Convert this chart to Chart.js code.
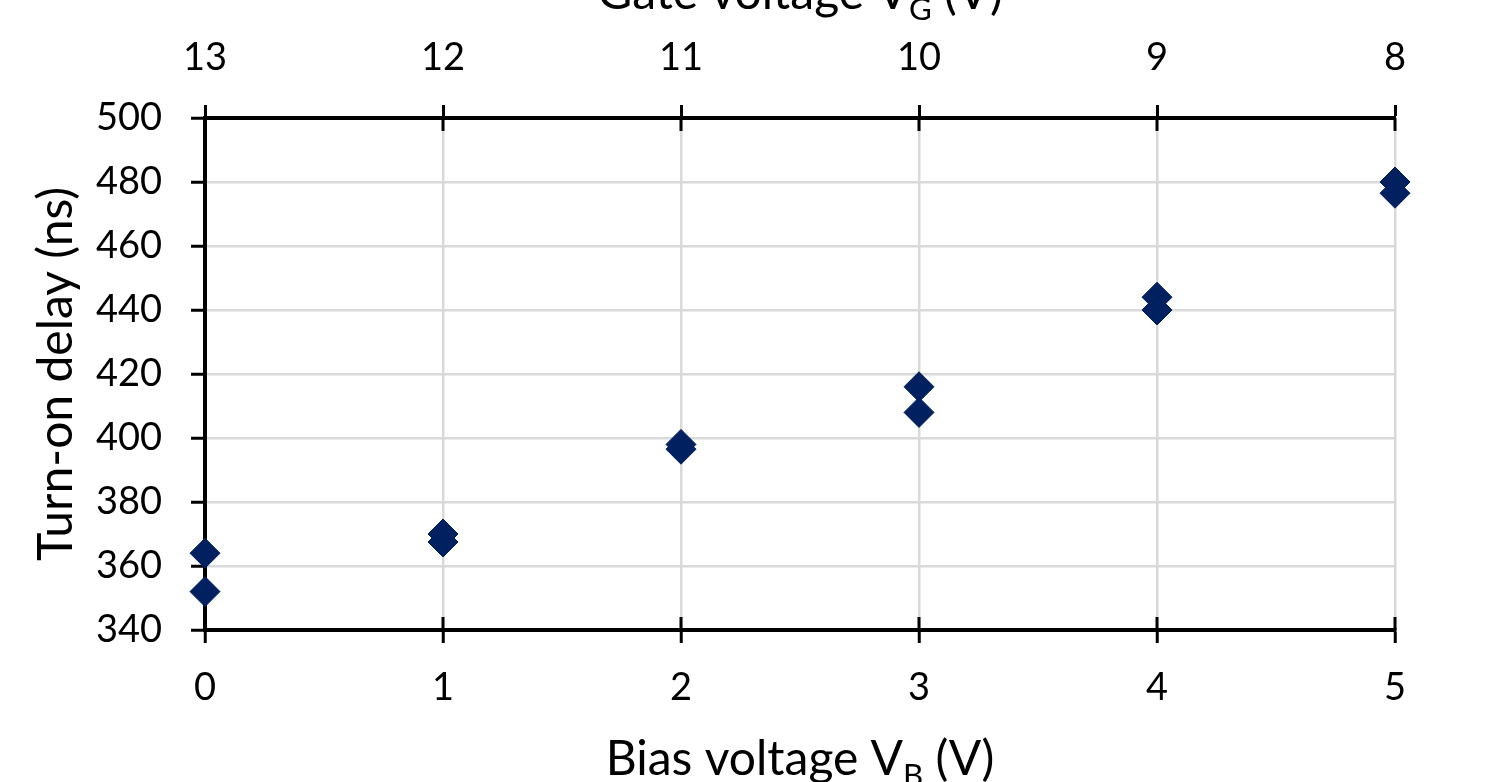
<!DOCTYPE html>
<html>
<head>
<meta charset="utf-8">
<script src="https://cdn.jsdelivr.net/npm/chart.js@4/dist/chart.umd.min.js"></script>
<style>
    html, body { margin: 0; padding: 0; background: #fff; overflow: hidden; }
    #wrap { width: 1512px; height: 782px; position: relative; }
</style>
</head>
<body>
<div id="wrap"><canvas id="delay-chart"></canvas></div>
<script>
// Data
const biasVoltage = [0, 1, 2, 3, 4, 5];
const gateVoltageTicks = [13, 12, 11, 10, 9, 8];
const delayUpper = [364, 370, 398, 416, 444, 480];
const delayLower = [352, 367.5, 396.5, 408, 440, 476.5];

const FONT = "Lato, 'Open Sans', 'DejaVu Sans', sans-serif";
const NAVY = '#002060';
const GRID = '#d9d9d9';
const AXIS_W = 4;

function toPoints(ys) {
    return biasVoltage.map((x, i) => ({ x: x, y: ys[i] }));
}

// draws text with a subscript part, centered on (x, y) baseline
function drawSubText(ctx, parts, x, y, size, angle) {
    ctx.save();
    ctx.translate(x, y);
    ctx.rotate(angle || 0);
    ctx.fillStyle = '#000';
    ctx.textBaseline = 'alphabetic';
    ctx.textAlign = 'left';
    let total = 0;
    parts.forEach(p => {
        ctx.font = (p.sub ? size * 0.65 : size) + 'px ' + FONT;
        p.w = ctx.measureText(p.text).width;
        total += p.w;
    });
    let cx = -total / 2;
    parts.forEach(p => {
        ctx.font = (p.sub ? size * 0.65 : size) + 'px ' + FONT;
        ctx.fillText(p.text, cx, p.sub ? size * 0.22 : 0);
        cx += p.w;
    });
    ctx.restore();
}

// tick marks that cross the top and bottom axis lines
const crossTicks = {
    id: 'crossTicks',
    beforeDatasetsDraw(chart) {
        const ctx = chart.ctx;
        const area = chart.chartArea;
        const xs = chart.scales.x;
        ctx.save();
        ctx.strokeStyle = '#000';
        ctx.lineWidth = 3;
        xs.ticks.forEach(t => {
            const px = Math.round(xs.getPixelForValue(t.value));
            ctx.beginPath();
            ctx.moveTo(px, area.bottom);
            ctx.lineTo(px, area.bottom - 13);
            ctx.moveTo(px, area.top);
            ctx.lineTo(px, area.top + 13);
            ctx.stroke();
        });
        ctx.restore();
    }
};

const axisTitles = {
    id: 'axisTitles',
    afterDraw(chart) {
        const ctx = chart.ctx;
        const area = chart.chartArea;
        const midX = (area.left + area.right) / 2;
        const midY = (area.top + area.bottom) / 2;
        drawSubText(ctx, [{ text: 'Bias voltage V' }, { text: 'B', sub: true }, { text: ' (V)' }], midX, 775, 48);
        drawSubText(ctx, [{ text: 'Gate voltage V' }, { text: 'G', sub: true }, { text: ' (V)' }], midX, 9, 48);
        drawSubText(ctx, [{ text: 'Turn-on delay (ns)' }], 72, midY, 48, -Math.PI / 2);
    }
};

const markerStyle = {
    pointStyle: 'rectRot',
    pointRadius: 15,
    pointBorderWidth: 1,
    backgroundColor: NAVY,
    borderColor: NAVY,
    showLine: false,
    clip: false
};

const tickFont = { family: FONT, size: 38 };

new Chart(document.getElementById('delay-chart'), {
    type: 'scatter',
    data: {
        datasets: [
            Object.assign({ label: 'Run 1', data: toPoints(delayUpper) }, markerStyle),
            Object.assign({ label: 'Run 2', data: toPoints(delayLower) }, markerStyle)
        ]
    },
    options: {
        responsive: true,
        maintainAspectRatio: false,
        animation: false,
        layout: { padding: { left: 0, right: 117, top: 0, bottom: 0 } },
        plugins: {
            legend: { display: false },
            tooltip: { enabled: false }
        },
        scales: {
            x: {
                type: 'linear',
                position: 'bottom',
                min: 0,
                max: 5,
                ticks: { stepSize: 1, padding: 22, color: '#000', font: tickFont },
                grid: { color: GRID, lineWidth: 2.5, tickColor: '#000', tickWidth: 3, tickLength: 13 },
                border: { color: '#000', width: AXIS_W },
                afterFit: s => { s.height = 152; }
            },
            x2: {
                type: 'linear',
                position: 'top',
                min: 0,
                max: 5,
                ticks: {
                    stepSize: 1, padding: 24, color: '#000', font: tickFont,
                    callback: (v) => gateVoltageTicks[biasVoltage.indexOf(v)]
                },
                grid: { drawOnChartArea: false, tickColor: '#000', tickWidth: 3, tickLength: 13 },
                border: { color: '#000', width: AXIS_W },
                afterFit: s => { s.height = 118; }
            },
            y: {
                min: 340,
                max: 500,
                ticks: { stepSize: 20, padding: 29, color: '#000', font: tickFont },
                grid: { color: GRID, lineWidth: 2.5, tickColor: '#000', tickWidth: 3, tickLength: 14 },
                border: { color: '#000', width: AXIS_W },
                afterFit: s => { s.width = 205; }
            }
        }
    },
    plugins: [crossTicks, axisTitles]
});
</script>
</body>
</html>
